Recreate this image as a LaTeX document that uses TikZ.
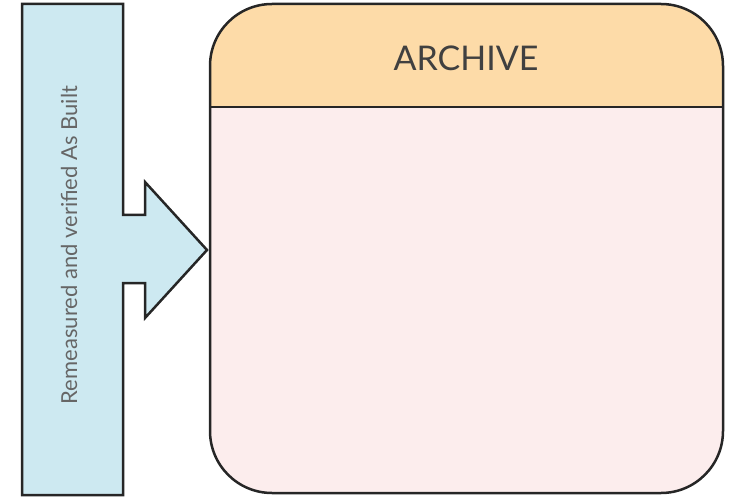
\documentclass[tikz,border=0pt]{standalone}
\usepackage{fontspec}
\setmainfont{Lato}
\usetikzlibrary{positioning}
\definecolor{asbuiltblue}{HTML}{CDE9F1}
\definecolor{archivehead}{HTML}{FDDBA8}
\definecolor{archivebody}{HTML}{FCEDED}
\definecolor{labelgray}{HTML}{666666}

\tikzset{
 outline/.style={draw=black!85,line width=2.5pt,line join=miter},
 titletext/.style={text=black!75,font=\fontsize{34}{40}\selectfont},
 sidetext/.style={text=labelgray,font=\fontsize{22}{26}\selectfont,rotate=90}
}

\begin{document}
\begin{tikzpicture}[x=1pt,y=-1pt]
\useasboundingbox (0,0) rectangle (731,497);

% arrow into the archive
\filldraw[outline,fill=asbuiltblue] (22,4) -- (123,4) -- (123,215) -- (145,215) -- (145,182) -- (207,250) -- (145,318) -- (145,283) -- (123,283) -- (123,495) -- (22,495) -- cycle;
\node[sidetext] (asbuilt) at (69,245) {Remeasured and verified As Built};

% archive box
\begin{scope}
\clip[rounded corners=62pt] (210,4) rectangle (723,493);
\fill[archivebody] (210,4) rectangle (723,493);
\fill[archivehead] (210,4) rectangle (723,107);
\end{scope}
\draw[outline,rounded corners=62pt] (210,4) rectangle (723,493);
\draw[outline] (210,107) -- (723,107);
\node[titletext] (archive) at (466,58) {ARCHIVE};
\end{tikzpicture}
\end{document}
